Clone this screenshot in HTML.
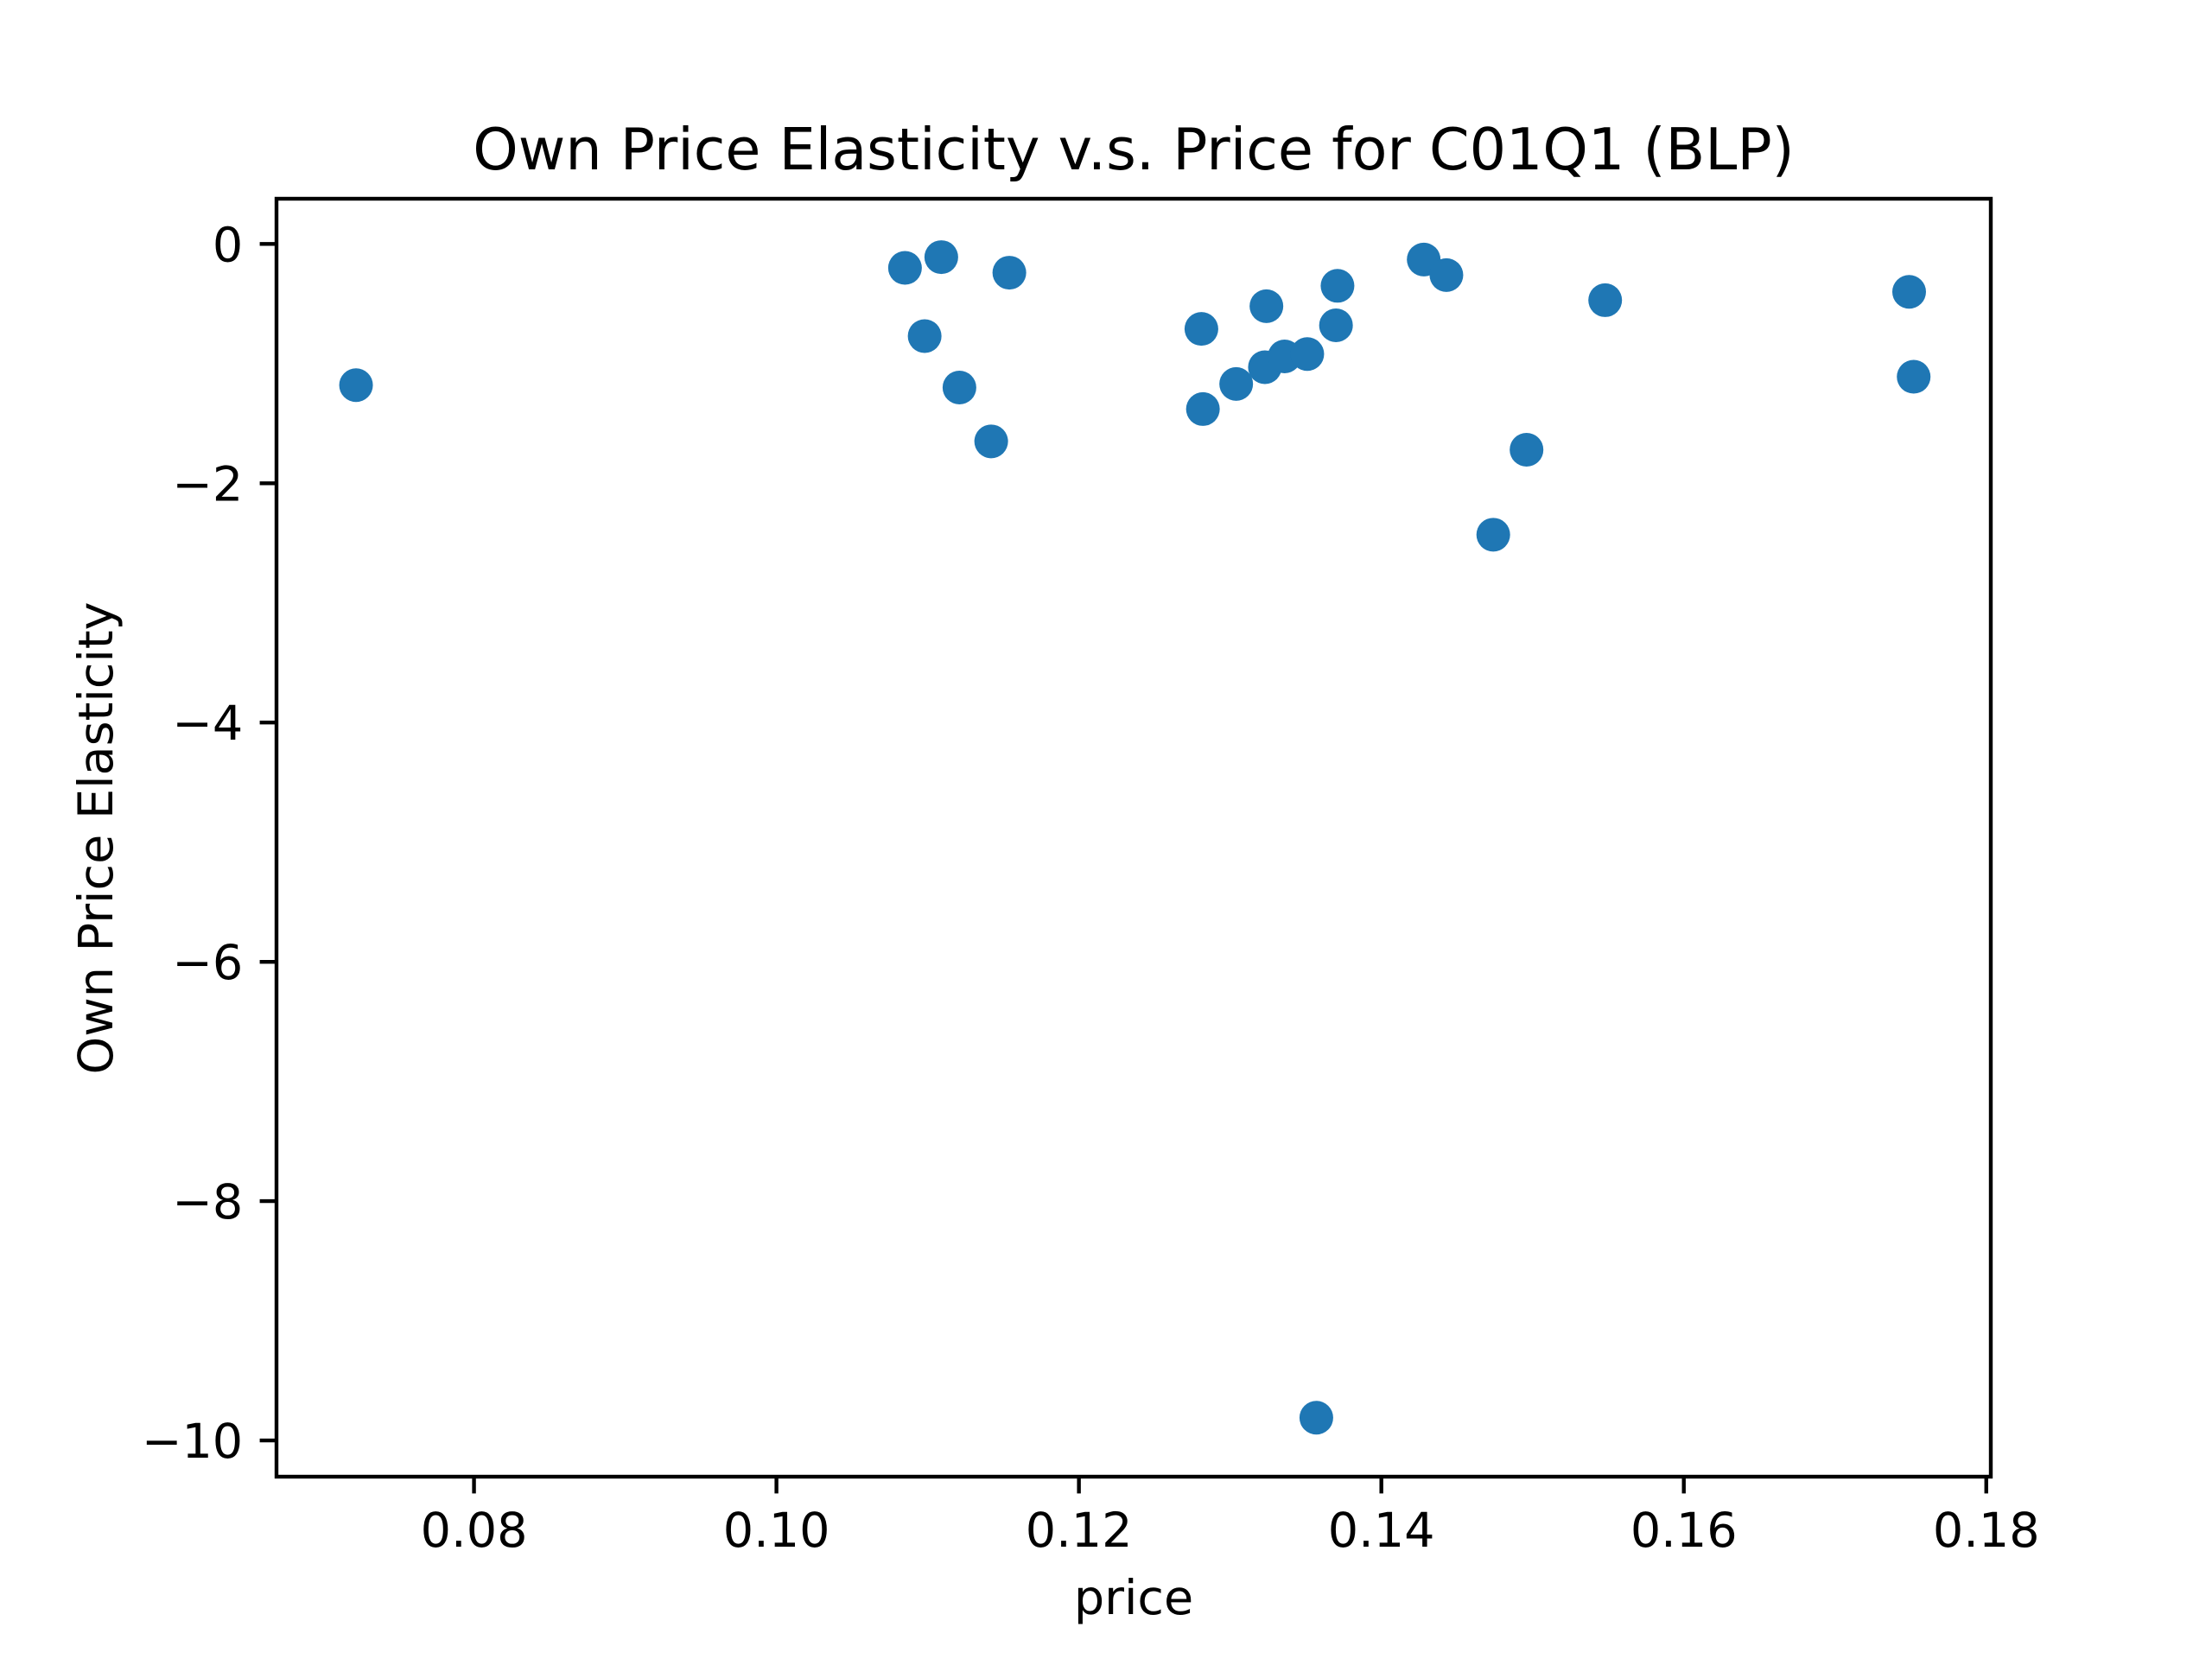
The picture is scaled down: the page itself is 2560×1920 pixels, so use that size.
<!DOCTYPE html>
<html><head><meta charset="utf-8"><style>
html,body{margin:0;padding:0;background:#fff;}
svg{display:block;font-family:"DejaVu Sans","Liberation Sans",sans-serif;}
</style></head><body>
<svg id="chart" width="2560" height="1920" viewBox="0 0 2560 1920" xmlns="http://www.w3.org/2000/svg">
<rect width="2560" height="1920" fill="#fff"/>
<text x="1312" y="196" font-size="66.7" text-anchor="middle">Own Price Elasticity v.s. Price for C01Q1 (BLP)</text>
<g id="ticks"></g>
<g id="points"></g>
<rect x="320" y="230" width="1984" height="1479" fill="none" stroke="#000" stroke-width="4.4"/>
<text x="1312" y="1868" font-size="55.6" text-anchor="middle">price</text>
<text transform="translate(130,970) rotate(-90)" font-size="55.6" text-anchor="middle">Own Price Elasticity</text>
</svg>
<script>
const prices=[0.0722,0.1085,0.1109,0.1098,0.1121,0.1154,0.1142,0.1281,0.1282,0.1304,0.1323,0.1324,0.1336,0.1351,0.1370,0.1371,0.1357,0.1428,0.1443,0.1474,0.1496,0.1548,0.1749,0.1752];
const elasticities=[-1.18,-0.20,-0.11,-0.77,-1.20,-0.24,-1.65,-0.71,-1.38,-1.17,-1.03,-0.52,-0.94,-0.92,-0.68,-0.35,-9.81,-0.13,-0.26,-2.43,-1.72,-0.47,-0.40,-1.11];
const xTicks=[0.08,0.10,0.12,0.14,0.16,0.18];
const xTickLabels=["0.08","0.10","0.12","0.14","0.16","0.18"];
const yTicks=[0,-2,-4,-6,-8,-10];
const yTickLabels=["0","\u22122","\u22124","\u22126","\u22128","\u221210"];

const L=320,R=2304,T=230,B=1709;
const xMin=0.06694,xMax=0.1803,yMin=-10.303,yMax=0.378;
function xs(v){return L+(v-xMin)/(xMax-xMin)*(R-L);}
function ys(v){return B-(v-yMin)/(yMax-yMin)*(B-T);}
const NS="http://www.w3.org/2000/svg";
const tg=document.getElementById('ticks');
const pg=document.getElementById('points');
function mk(tag,attrs,parent){const e=document.createElementNS(NS,tag);for(const k in attrs)e.setAttribute(k,attrs[k]);parent.appendChild(e);return e;}
xTicks.forEach((v,i)=>{
  const x=xs(v);
  const l=mk('line',{x1:x,x2:x,y1:B,y2:B+19.4,stroke:'#000','stroke-width':4.4},tg);
  
  
  const t=mk('text',{x:x,y:B+38.8+42,'font-size':55.6,'text-anchor':'middle'},tg);
  t.textContent=xTickLabels[i];
  
  
});
yTicks.forEach((v,i)=>{
  const y=ys(v);
  const l=mk('line',{x1:L-19.4,x2:L,y1:y,y2:y,stroke:'#000','stroke-width':4.4},tg);
  
  
  const t=mk('text',{x:L-38.8,y:y+20,'font-size':55.6,'text-anchor':'end'},tg);
  t.textContent=yTickLabels[i];
  
  
});
prices.forEach((p,i)=>{
  const c=mk('circle',{cx:xs(p),cy:ys(elasticities[i]),r:19.5,fill:'#1f77b4'},pg);
  
  
});
</script>
</body></html>
